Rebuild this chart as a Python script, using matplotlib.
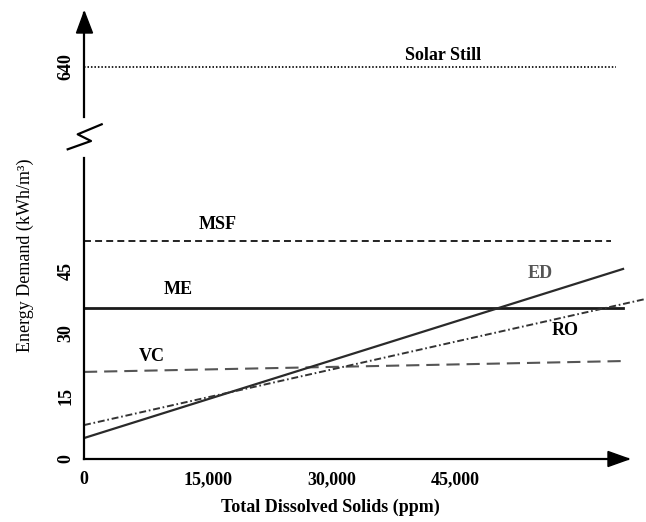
import matplotlib
matplotlib.use("Agg")
import matplotlib.pyplot as plt
from matplotlib.transforms import Affine2D
from matplotlib.patches import Polygon
from matplotlib.lines import Line2D

plt.rcParams['font.family'] = ['Liberation Serif', 'DejaVu Serif']
plt.rcParams['font.weight'] = 'bold'
plt.rcParams['lines.scale_dashes'] = False

# ---------------- data ----------------
solar_still_x = [0, 64550]
solar_still_y = [640, 640]
msf_x = [0, 63940]
msf_y = [52.1, 52.1]
me_x = [0, 65400]
me_y = [36.1, 36.1]
vc_x = [0, 65400]
vc_y = [20.8, 23.4]
ed_x = [0, 65400]
ed_y = [5.0, 45.4]
ro_x = [0, 68070]
ro_y = [8.1, 38.2]

x_ticks = [0, 15000, 30000, 45000]
x_tick_labels = ['0', '15,000', '30,000', '45,000']
y_ticks = [0, 15, 30, 45]
y_tick_labels = ['0', '15', '30', '45']
top_ticks = [640]
top_tick_labels = ['640']

# ---------------- layout ----------------
W, H = 646, 522
fig = plt.figure(figsize=(W / 100, H / 100), dpi=100)
px = Affine2D().scale(1 / W, -1 / H).translate(0, 1) + fig.transFigure

def rect(l, t, r, b):
    return [l / W, 1 - b / H, (r - l) / W, (b - t) / H]

ax = fig.add_axes(rect(84, 158, 628, 459))
ax_top = fig.add_axes(rect(84, 13, 628, 117))

FS = 13
for a in (ax, ax_top):
    a.set_facecolor('none')
    a.spines['top'].set_visible(False)
    a.spines['right'].set_visible(False)
    a.spines['left'].set_linewidth(1.6)
    a.spines['bottom'].set_linewidth(1.6)
ax_top.spines['bottom'].set_visible(False)

ax.set_xlim(0, 66000)
ax.set_ylim(0, 71.9)
ax_top.set_xlim(0, 66000)
ax_top.set_ylim(590, 694)

ax.set_xticks(x_ticks)
ax.set_xticklabels(x_tick_labels, fontsize=FS)
ax.set_yticks(y_ticks)
ax.set_yticklabels(y_tick_labels, fontsize=FS, rotation=90, va='center')
ax.tick_params(axis='x', length=0, pad=9)
ax.tick_params(axis='y', length=0, pad=7)
ax_top.set_xticks([])
ax_top.set_yticks(top_ticks)
ax_top.set_yticklabels(top_tick_labels, fontsize=FS, rotation=90, va='center')
ax_top.tick_params(axis='y', length=0, pad=7)

# ---------------- series ----------------
ax_top.plot(solar_still_x, solar_still_y, color='#222222', lw=1.4,
            linestyle=(0, (1.1, 1.4)))
ax.plot(msf_x, msf_y, color='#222222', lw=1.4, linestyle=(0, (5, 3)))
ax.plot(me_x, me_y, color='#1a1a1a', lw=2.0)
ax.plot(vc_x, vc_y, color='#555555', lw=1.5, linestyle=(0, (9.5, 5)))
ax.plot(ed_x, ed_y, color='#2a2a2a', lw=1.6)
ax.plot(ro_x, ro_y, color='#333333', lw=1.4, linestyle=(0, (5, 2, 1.2, 2)),
        clip_on=False)

# ---------------- labels ----------------
ax_top.text(43570, 652, 'Solar Still', fontsize=FS, ha='center', va='center')
ax.text(16260, 56.1, 'MSF', fontsize=FS, ha='center', va='center')
ax.text(11410, 40.4, 'ME', fontsize=FS, ha='center', va='center')
ax.text(8250, 24.6, 'VC', fontsize=FS, ha='center', va='center')
ax.text(55340, 44.4, 'ED', fontsize=FS, ha='center', va='center', color='#555555')
ax.text(58370, 30.8, 'RO', fontsize=FS, ha='center', va='center')

fig.text(25 / W, 1 - 255 / H, 'Energy Demand (kWh/m\u00b3)', rotation=90,
         ha='center', va='center', fontsize=FS, fontweight='normal')
fig.text(330 / W, 1 - 507 / H, 'Total Dissolved Solids (ppm)',
         ha='center', va='center', fontsize=FS)

# ---------------- axis decorations ----------------
fig.add_artist(Polygon([(84.3, 11.7), (76.5, 33), (92.5, 33)], closed=True,
                       transform=px, color='black'))
fig.add_artist(Polygon([(629, 459), (608, 451.5), (608, 466.5)], closed=True,
                       transform=px, color='black'))
fig.add_artist(Line2D([101.7, 77.7, 91, 67.7], [124.3, 134.3, 141, 149.3],
                      transform=px, color='black', lw=1.6))

fig.savefig('out.png', dpi=100)
